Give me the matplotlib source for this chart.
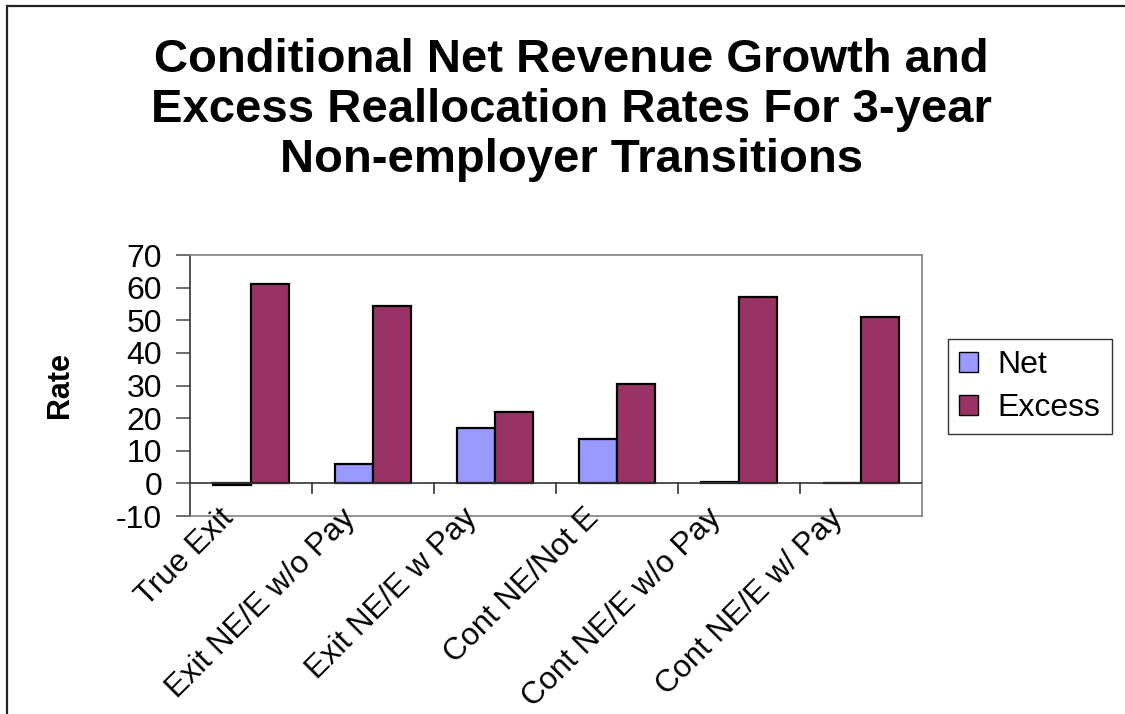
import matplotlib.pyplot as plt
import numpy as np

plt.rcParams["font.family"] = ["Liberation Sans", "DejaVu Sans"]

categories = ["True Exit", "Exit NE/E w/o Pay", "Exit NE/E w Pay",
              "Cont NE/Not E", "Cont NE/E w/o Pay", "Cont NE/E w/ Pay"]
net = [-0.5, 6.0, 17.0, 13.5, 0.5, 0.0]
excess = [61.0, 54.5, 22.0, 30.5, 57.0, 51.0]
yticks = [-10, 0, 10, 20, 30, 40, 50, 60, 70]

W, H = 1125, 714
fig = plt.figure(figsize=(W / 100, H / 100), dpi=100)
# chart-area border (right and bottom edges fall outside the canvas)
fig.patches.append(plt.Rectangle((7 / W, -0.05), 1.1, 1 - 6 / H + 0.05,
                                 transform=fig.transFigure, fill=False,
                                 edgecolor="#222222", linewidth=1.6))

ax = fig.add_axes([190 / W, 1 - 516 / H, 732 / W, 261 / H])
x = np.arange(len(categories))
w = 0.31
ax.bar(x - w / 2, net, w, color="#9999ff", edgecolor="black", linewidth=1.6,
       label="Net", zorder=3)
ax.bar(x + w / 2, excess, w, color="#993366", edgecolor="black", linewidth=1.6,
       label="Excess", zorder=3)

ax.set_xlim(-0.5, len(categories) - 0.5)
ax.set_ylim(-10, 70)
ax.set_yticks(yticks)
ax.set_yticklabels([str(v) for v in yticks])
ax.tick_params(axis="y", labelsize=23, length=10, width=1.2, color="#555555",
               direction="out", pad=10)

for side in ["top", "right", "bottom"]:
    ax.spines[side].set_color("#808080")
    ax.spines[side].set_linewidth(1.2)
ax.spines["left"].set_color("#333333")
ax.spines["left"].set_linewidth(1.2)

# category axis sits at zero, with ticks between groups
ax.axhline(0, color="#333333", linewidth=1.2, zorder=4)
for b in np.arange(0.5, len(categories) - 0.5, 1.0):
    ax.plot([b, b], [0, -2.8], color="#333333", linewidth=1.2, zorder=4)
ax.set_xticks([])
for i, name in enumerate(categories):
    ax.text(i - 0.27, -6.0, name, rotation=45, ha="right", va="top",
            fontsize=22.5, rotation_mode="anchor")

ax.set_ylabel("Rate", fontsize=22, fontweight="bold")
ax.yaxis.set_label_coords(-0.157, 0.5)

fig.text(0.508, 1 - 110 / H,
         "Conditional Net Revenue Growth and\nExcess Reallocation Rates For 3-year\n"
         "Non-employer Transitions", fontsize=34, fontweight="bold",
         ha="center", va="center", linespacing=1.17)

leg = fig.legend(loc="upper left", bbox_to_anchor=(948 / W, 1 - 339 / H),
                 borderaxespad=0, fontsize=23, frameon=True, fancybox=False,
                 edgecolor="black", handlelength=0.6, handleheight=0.6,
                 handletextpad=0.6, borderpad=0.35, labelspacing=0.4)
leg.get_frame().set_linewidth(1.0)
for h in leg.legend_handles:
    h.set_linewidth(1.0)

fig.savefig("out.png", dpi=100)
